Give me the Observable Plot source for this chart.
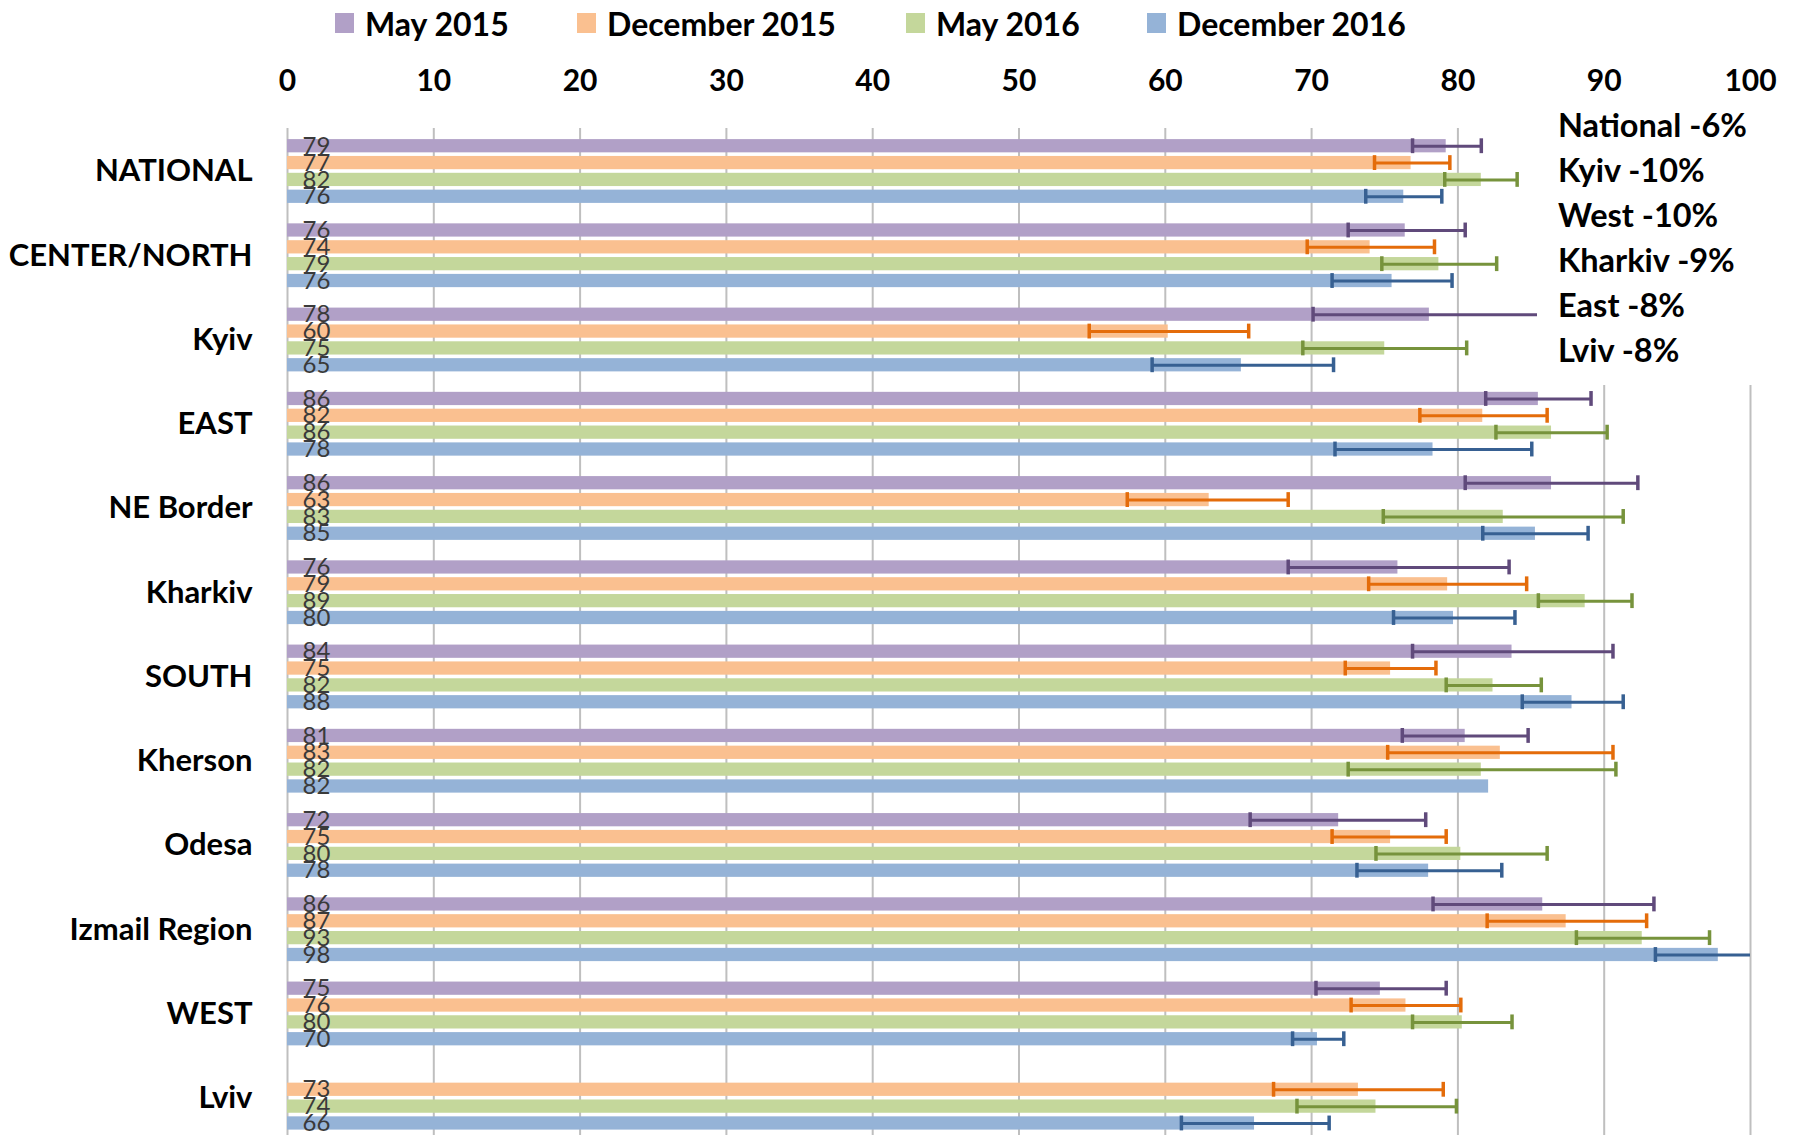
<!DOCTYPE html>
<html>
<head>
<meta charset="utf-8">
<script src="https://cdn.jsdelivr.net/npm/d3@7"></script>
<script src="https://cdn.jsdelivr.net/npm/@observablehq/plot@0.6"></script>
<style>
  body { margin: 0; background: #fff; font-family: Lato, "Open Sans", sans-serif; }
  #wrap { position: relative; width: 1795px; height: 1135px; overflow: hidden; background: #fff; }
  #legend { position: relative; height: 46px; }
  .item { position: absolute; top: 0; height: 46px; display: flex; align-items: center; font-weight: 700; font-size: 32px; color: #000; white-space: nowrap; }
  .sw { width: 19px; height: 20px; margin-right: 11px; }
  #note { position: absolute; left: 1537px; top: 100px; width: 258px; height: 285px; background: #fff; padding-top: 2px; box-sizing: border-box; padding-left: 21px; }
  #note div { font-weight: 700; font-size: 32.5px; line-height: 45px; color: #000; white-space: nowrap; }
  svg { display: block; }
</style>
</head>
<body>
<div id="wrap">
  <div id="legend"></div>
  <div id="chart"></div>
  <div id="note"></div>
</div>
<script>
// ---- data ----
const groups = ["NATIONAL", "CENTER/NORTH", "Kyiv", "EAST", "NE Border", "Kharkiv", "SOUTH", "Kherson", "Odesa", "Izmail Region", "WEST", "Lviv"];
const seriesNames = ["May 2015", "December 2015", "May 2016", "December 2016"];

const may2015     = [79.2, 76.4, 78.05, 85.5, 86.4, 75.9, 83.7, 80.5, 71.85, 85.8, 74.7, null];
const may2015Low  = [76.9, 72.5, 70.1, 81.9, 80.5, 68.4, 76.9, 76.2, 65.8, 78.3, 70.3, null];
const may2015High = [81.6, 80.5, 86.0, 89.1, 92.3, 83.5, 90.6, 84.8, 77.8, 93.4, 79.2, null];

const dec2015     = [76.8, 74.0, 60.2, 81.7, 63.0, 79.3, 75.4, 82.9, 75.4, 87.4, 76.45, 73.2];
const dec2015Low  = [74.3, 69.7, 54.8, 77.4, 57.4, 73.9, 72.3, 75.2, 71.4, 82.0, 72.7, 67.4];
const dec2015High = [79.45, 78.4, 65.7, 86.1, 68.4, 84.7, 78.5, 90.6, 79.2, 92.9, 80.2, 79.0];

const may2016     = [81.6, 78.7, 75.0, 86.4, 83.1, 88.7, 82.4, 81.6, 80.2, 92.6, 80.3, 74.4];
const may2016Low  = [79.1, 74.8, 69.4, 82.6, 74.9, 85.5, 79.2, 72.5, 74.4, 88.1, 76.9, 69.0];
const may2016High = [84.05, 82.65, 80.6, 90.2, 91.3, 91.9, 85.7, 90.8, 86.1, 97.2, 83.7, 79.9];

const dec2016     = [76.3, 75.5, 65.2, 78.3, 85.3, 79.7, 87.8, 82.1, 78.0, 97.8, 70.4, 66.1];
const dec2016Low  = [73.7, 71.4, 59.1, 71.6, 81.7, 75.6, 84.4, null, 73.1, 93.5, 68.7, 61.1];
const dec2016High = [78.9, 79.6, 71.5, 85.05, 88.9, 83.9, 91.3, null, 83.0, 102, 72.2, 71.2];

const xTicks = [0, 10, 20, 30, 40, 50, 60, 70, 80, 90, 100];
const notes = ["National -6%", "Kyiv -10%", "West -10%", "Kharkiv -9%", "East -8%", "Lviv -8%"];

const barColors = ["#B1A0C7", "#FAC090", "#C4D79B", "#95B3D7"];
const errColors = ["#604A7B", "#E46C0A", "#77933C", "#376092"];

// ---- build tables ----
const values = [may2015, dec2015, may2016, dec2016];
const lows = [may2015Low, dec2015Low, may2016Low, dec2016Low];
const highs = [may2015High, dec2015High, may2016High, dec2016High];

const rows = [];
const domain = [];
groups.forEach((g, gi) => {
  seriesNames.forEach((s, si) => {
    const key = gi + "|" + si;
    domain.push(key);
    const v = values[si][gi];
    if (v != null) rows.push({group: g, gi, si, key, value: v, low: lows[si][gi], high: highs[si][gi]});
  });
  if (gi < groups.length - 1) domain.push(gi + "|gap");
});

// ---- legend ----
const legendLeft = [335, 577, 906, 1147];
const legend = document.getElementById("legend");
seriesNames.forEach((s, i) => {
  const it = document.createElement("div");
  it.className = "item";
  it.style.left = legendLeft[i] + "px";
  const sw = document.createElement("span");
  sw.className = "sw";
  sw.style.background = barColors[i];
  it.appendChild(sw);
  it.appendChild(document.createTextNode(s));
  legend.appendChild(it);
});

// ---- notes ----
const noteEl = document.getElementById("note");
notes.forEach(n => { const d = document.createElement("div"); d.textContent = n; noteEl.appendChild(d); });

// ---- chart ----
const marks = [
  Plot.gridX(xTicks, {stroke: "#BFBFBF", strokeOpacity: 1, strokeWidth: 2})
];
seriesNames.forEach((s, si) => {
  const sub = rows.filter(d => d.si === si);
  marks.push(Plot.barX(sub, {y: "key", x: "value", fill: barColors[si], insetTop: 1.8, insetBottom: 1.8}));
});
seriesNames.forEach((s, si) => {
  const sub = rows.filter(d => d.si === si && d.low != null);
  marks.push(Plot.ruleY(sub, {y: "key", x1: "low", x2: "high", stroke: errColors[si], strokeWidth: 3, clip: true}));
  marks.push(Plot.tickX(sub, {y: "key", x: "low", stroke: errColors[si], strokeWidth: 3.5, insetTop: 1, insetBottom: 1, clip: true}));
  marks.push(Plot.tickX(sub, {y: "key", x: "high", stroke: errColors[si], strokeWidth: 3.5, insetTop: 1, insetBottom: 1, clip: true}));
});
marks.push(Plot.text(rows, {
  y: "key", text: d => String(Math.round(d.value)), frameAnchor: "left", dx: 15,
  textAnchor: "start", fill: "#3a3a3a", fontSize: 24
}));
marks.push(Plot.text(groups, {
  y: (g, i) => i + "|1", dy: 8.4, text: d => d, frameAnchor: "left", dx: -35,
  textAnchor: "end", fill: "#000", fontSize: 31, fontWeight: 700
}));
marks.push(Plot.axisX(xTicks, {anchor: "top", tickSize: 0, tickPadding: 38, fontSize: 30, fontWeight: 700, fill: "#000", label: null}));

const chart = Plot.plot({
  width: 1795,
  height: 1089,
  marginTop: 82,
  marginBottom: 0,
  marginLeft: 287,
  marginRight: 45,
  style: {fontFamily: "Lato, 'Open Sans', sans-serif", background: "#fff", overflow: "visible"},
  x: {domain: [0, 100], axis: null},
  y: {domain: domain, type: "band", padding: 0, insetTop: 9.3, insetBottom: 3.6, axis: null},
  marks
});
document.getElementById("chart").appendChild(chart);
</script>
</body>
</html>
